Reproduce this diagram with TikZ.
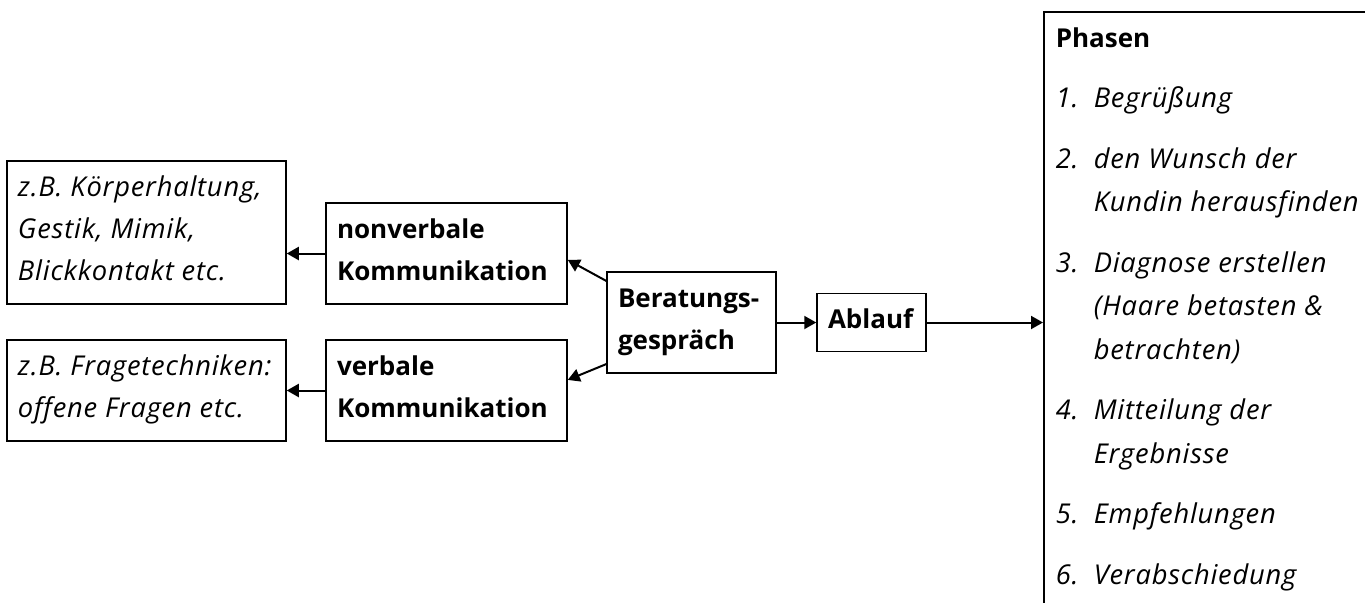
\documentclass[tikz,border=0pt]{standalone}
\usepackage{fontspec}
\setmainfont{Open Sans}[Ligatures=NoCommon, ItalicFeatures={Scale=1.05, LetterSpace=2.9}]
\usetikzlibrary{arrows.meta}

\newcommand{\boxfont}{\fontsize{13}{21}\selectfont}
\newcommand{\nr}[1]{\makebox[19pt][l]{#1}}

\tikzset{
  box/.style={draw, line width=0.75pt, inner xsep=5.5pt, inner ysep=0pt, align=flush left,
    execute at begin node={\rule{0pt}{9.75pt}}, execute at end node={\rule[-4pt]{0pt}{4pt}},
    font=\boxfont},
  note/.style={box, font=\boxfont\itshape},
  head/.style={box, font=\boxfont\bfseries},
  arr/.style={-{Triangle[length=6pt,width=6.5pt]}, line width=1pt}
}

\begin{document}
\begin{tikzpicture}[x=0.5pt, y=-0.5pt]
	\useasboundingbox (0,0) rectangle (1365,602);
	\clip (0,0) rectangle (1365,602);
	
	\node[note, text width=128.5pt, minimum height=71.5pt] (K) at (146.5,232.5) {z.B. Körperhaltung,\\Gestik, Mimik,\\Blickkontakt etc.};
	\node[note, text width=128.5pt, minimum height=50.5pt] (F) at (146.5,390.5) {z.B. Fragetechniken:\\offene Fragen etc.};
	\node[head, text width=109.5pt, minimum height=50.5pt] (N) at (446.5,253.5) {nonverbale\\Kommunikation};
	\node[head, text width=109.5pt, minimum height=50.5pt] (V) at (446.5,390.5) {verbale\\Kommunikation};
	\node[head, text width=73.5pt, minimum height=50.5pt] (B) at (691.5,322.5) {Beratungs-\\gespräch};
	\node[head, text width=43.5pt, minimum height=29pt] (A) at (871.5,322.5) {Ablauf};
	\node[box, anchor=north west, inner xsep=6pt, inner ysep=7.75pt, text width=170pt,
		font=\fontsize{13}{21.75}\selectfont] (P) at (1043,11)
		{\textbf{Phasen}\\[8.5pt]
		\itshape\nr{1.}Begrüßung\\[8.5pt]
		\nr{2.}den Wunsch der\\\hspace*{19pt}Kundin herausfinden\\[8.5pt]
		\nr{3.}Diagnose erstellen\\\hspace*{19pt}(Haare betasten \&\\\hspace*{19pt}betrachten)\\[8.5pt]
		\nr{4.}Mitteilung der\\\hspace*{19pt}Ergebnisse\\[8.5pt]
		\nr{5.}Empfehlungen\\[8.5pt]
		\nr{6.}Verabschiedung};
	
	\draw[arr] (N.west) -- (N.west -| K.east);
	\draw[arr] (V.west) -- (F.east);
	\draw[arr] (B.154) -- (N.-3);
	\draw[arr] (B.206) -- (V.5);
	\draw[arr] (B) -- (A);
	\draw[arr] (A.east) -- (A.east -| P.west);
\end{tikzpicture}
\end{document}
